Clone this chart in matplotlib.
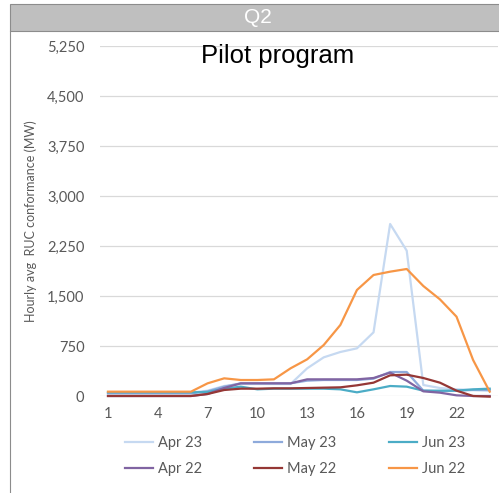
import matplotlib.pyplot as plt
from matplotlib.patches import Rectangle
from matplotlib.lines import Line2D

hours = list(range(1, 25))

apr_23 = [50, 50, 50, 50, 50, 50, 80, 150, 180, 180, 180, 180, 415, 580, 660, 715,
          955, 2580, 2180, 165, 120, 100, 90, 80]
may_23 = [40, 40, 40, 40, 40, 40, 70, 140, 190, 190, 190, 190, 230, 240, 240, 240,
          260, 360, 360, 80, 70, 80, 90, 90]
jun_23 = [55, 55, 55, 55, 55, 55, 60, 110, 140, 100, 110, 110, 110, 110, 100, 55,
          100, 150, 140, 80, 80, 80, 100, 110]
apr_22 = [0, 0, 0, 0, 0, 0, 30, 120, 190, 190, 190, 190, 250, 250, 250, 250,
          270, 350, 230, 70, 50, 10, 0, 0]
may_22 = [0, 0, 0, 0, 0, 0, 30, 90, 110, 110, 115, 115, 120, 125, 130, 160,
          200, 310, 320, 270, 200, 80, 0, -10]
jun_22 = [65, 65, 65, 65, 65, 65, 190, 265, 240, 240, 250, 415, 550, 765, 1065, 1590,
          1815, 1865, 1905, 1650, 1450, 1190, 540, 65]

series = [
    ('Apr 23', apr_23, '#c6d9f1'),
    ('May 23', may_23, '#8eaadb'),
    ('Jun 23', jun_23, '#4bacc6'),
    ('Apr 22', apr_22, '#8064a2'),
    ('May 22', may_22, '#953735'),
    ('Jun 22', jun_22, '#f79646'),
]

yticks = [0, 750, 1500, 2250, 3000, 3750, 4500, 5250]
xticks = [1, 4, 7, 10, 13, 16, 19, 22]

plt.rcParams['font.family'] = ['Lato', 'DejaVu Sans']

fig = plt.figure(figsize=(4.99, 4.93), dpi=100)

# header bar and left frame line
fig.patches.append(Rectangle((10 / 499, 1 - 31 / 493), 1, 27 / 493, transform=fig.transFigure,
                             facecolor='#bfbfbf', edgecolor='#8c8c8c', linewidth=0.8))
fig.lines.append(Line2D([10 / 499, 10 / 499], [0, 1 - 31 / 493], transform=fig.transFigure,
                        color='#8c8c8c', linewidth=0.8))
fig.text(258 / 499, 1 - 17.5 / 493, 'Q2', color='white', fontsize=15,
         family='Liberation Sans', ha='center', va='center')

ax = fig.add_axes([99.7 / 499, 97 / 493, 398.3 / 499, 350 / 493])
handles = {}
for name, vals, col in series:
    h, = ax.plot(hours, vals, color=col, linewidth=1.6, clip_on=False, label=name)
    handles[name] = h

ax.set_xlim(0.5, 24.5)
ax.set_ylim(0, 5250)
ax.set_yticks(yticks)
ax.set_yticklabels([f'{v:,}' for v in yticks])
ax.set_xticks(xticks)
ax.grid(axis='y', color='#d9d9d9', linewidth=0.9)
ax.set_axisbelow(True)
for s in ax.spines.values():
    s.set_visible(False)
ax.tick_params(length=0, labelsize=10.5, colors='#595959', pad=11)
ax.tick_params(axis='x', pad=8)
ax.set_ylabel('Hourly avg  RUC conformance (MW)', fontsize=9, color='#595959', labelpad=7)

fig.text(278 / 499, 1 - 44 / 493, 'Pilot program', fontsize=18.5,
         family='Liberation Sans', ha='center', va='top', color='black')

order = ['Apr 23', 'Apr 22', 'May 23', 'May 22', 'Jun 23', 'Jun 22']
fig.legend([handles[n] for n in order], order, ncol=3, loc='center',
           bbox_to_anchor=(295 / 499, 1 - 456 / 493), frameon=False, fontsize=10.5,
           labelcolor='#595959', handlelength=1.9, handletextpad=0.35, columnspacing=3.6,
           labelspacing=0.8)

fig.savefig('out.png', dpi=100)
